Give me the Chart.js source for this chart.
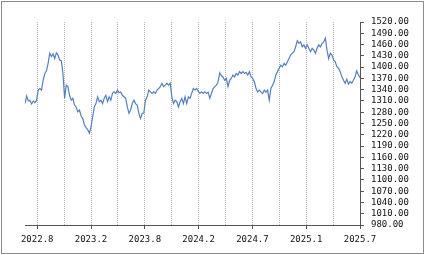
<!DOCTYPE html>
<html>
<head>
<meta charset="utf-8">
<script src="https://cdn.jsdelivr.net/npm/chart.js@4/dist/chart.umd.min.js"></script>
<style>
  html, body { margin: 0; padding: 0; background: #fff; }
  canvas { display: block; }
</style>
</head>
<body>
<canvas id="chart" width="425" height="255"></canvas>
<script>
// series (one point every ~1.65px)
const closes = [
    1303, 1323, 1310, 1312, 1302, 1310, 1305, 1312, 1339, 1343, 1339, 1365, 1383, 1390, 1410, 1437,
    1428, 1435, 1423, 1438, 1432, 1419, 1417, 1383, 1317, 1352, 1348, 1325, 1312, 1317, 1299, 1294,
    1281, 1286, 1270, 1263, 1246, 1239, 1234, 1224, 1241, 1268, 1294, 1303, 1321, 1308, 1312, 1303,
    1317,
    1325, 1308, 1321, 1312, 1330, 1334, 1330, 1339, 1332, 1334, 1325, 1321, 1317, 1294, 1277, 1286,
    1303, 1312, 1303, 1299, 1277, 1263, 1277, 1278, 1312, 1321, 1339, 1334, 1330, 1334, 1330, 1339,
    1343, 1348, 1357, 1348, 1352, 1357, 1352, 1357, 1321, 1303, 1312, 1308, 1294, 1308, 1317, 1303,
    1321, 1303, 1321, 1317, 1330, 1343, 1339,
    1343, 1336, 1330, 1334, 1330, 1334, 1330, 1333, 1317, 1330, 1343, 1348, 1352, 1361, 1385, 1377,
    1374, 1365, 1370, 1348, 1365, 1370, 1379, 1374, 1383, 1379, 1388, 1383, 1388, 1383, 1386, 1379,
    1388, 1374, 1370, 1361, 1343, 1334, 1339, 1334, 1330, 1339, 1333, 1339, 1312, 1343, 1352, 1361,
    1379, 1388,
    1397, 1405, 1401, 1410, 1405, 1414, 1423, 1432, 1437, 1441, 1454, 1470, 1463, 1467, 1454, 1459,
    1450, 1459, 1450, 1441, 1450, 1445, 1437, 1450, 1459, 1454, 1463, 1467, 1477, 1445, 1423, 1437,
    1432, 1419, 1414, 1401, 1397, 1388, 1375, 1365, 1357, 1368, 1355, 1362, 1357, 1365, 1374, 1390,
    1380, 1372
];

const tickLabels = ['2022.8', '2023.2', '2023.8', '2024.2', '2024.7', '2025.1', '2025.7'];
const tickIdx = [7.4, 40, 72.6, 105.2, 137.8, 170.4, 203];

const yMin = 980, yMax = 1520, yStep = 30;

// dotted grid at every label and halfway between
let gridIdx = [];
tickIdx.forEach((v, i) => {
    gridIdx.push(v);
    if (i < tickIdx.length - 1) gridIdx.push((v + tickIdx[i + 1]) / 2);
});

const frame = {
    id: 'frame',
    beforeDraw(chart) {
        const c = chart.ctx;
        c.save();
        c.fillStyle = '#fff';
        c.fillRect(0, 0, chart.width, chart.height);
        c.strokeStyle = '#8c8c8c';
        c.lineWidth = 1;
        c.strokeRect(1.5, 1.5, chart.width - 3, chart.height - 3);
        c.restore();
    }
};

const fnt = { family: '"DejaVu Sans Mono", monospace', size: 9 };

new Chart(document.getElementById('chart').getContext('2d'), {
    type: 'line',
    data: {
        datasets: [{
            data: closes.map((v, i) => ({ x: i, y: v })),
            borderColor: '#5580bb',
            borderWidth: 1.2,
            pointRadius: 0,
            tension: 0,
            fill: false
        }]
    },
    options: {
        responsive: false,
        animation: false,
        events: [],
        layout: { padding: { left: 25, top: 22, right: 0, bottom: 0 } },
        plugins: { legend: { display: false }, tooltip: { enabled: false } },
        scales: {
            x: {
                type: 'linear',
                min: 0,
                max: closes.length - 1,
                afterBuildTicks: s => { s.ticks = gridIdx.map(v => ({ value: v })); },
                afterFit: s => { s.height = 30; },
                grid: {
                    color: ctx => ctx.index === gridIdx.length - 1 ? 'transparent' : '#b0b0b0',
                    tickColor: ctx => ctx.index % 2 === 0 ? '#555' : 'transparent',
                    tickLength: 4,
                    lineWidth: 1
                },
                border: { color: '#555', dash: [1, 1] },
                ticks: {
                    autoSkip: false,
                    maxRotation: 0,
                    padding: 5,
                    color: '#111',
                    font: fnt,
                    callback: (v, i) => i % 2 === 0 ? tickLabels[i / 2] : ''
                }
            },
            y: {
                position: 'right',
                min: yMin,
                max: yMax,
                afterFit: s => { s.width = 65; },
                grid: { drawOnChartArea: false, tickLength: 4, tickColor: '#555' },
                border: { color: '#555' },
                ticks: {
                    stepSize: yStep,
                    autoSkip: false,
                    padding: 7,
                    color: '#111',
                    font: fnt,
                    callback: v => v.toFixed(2)
                }
            }
        }
    },
    plugins: [frame]
});
</script>
</body>
</html>
